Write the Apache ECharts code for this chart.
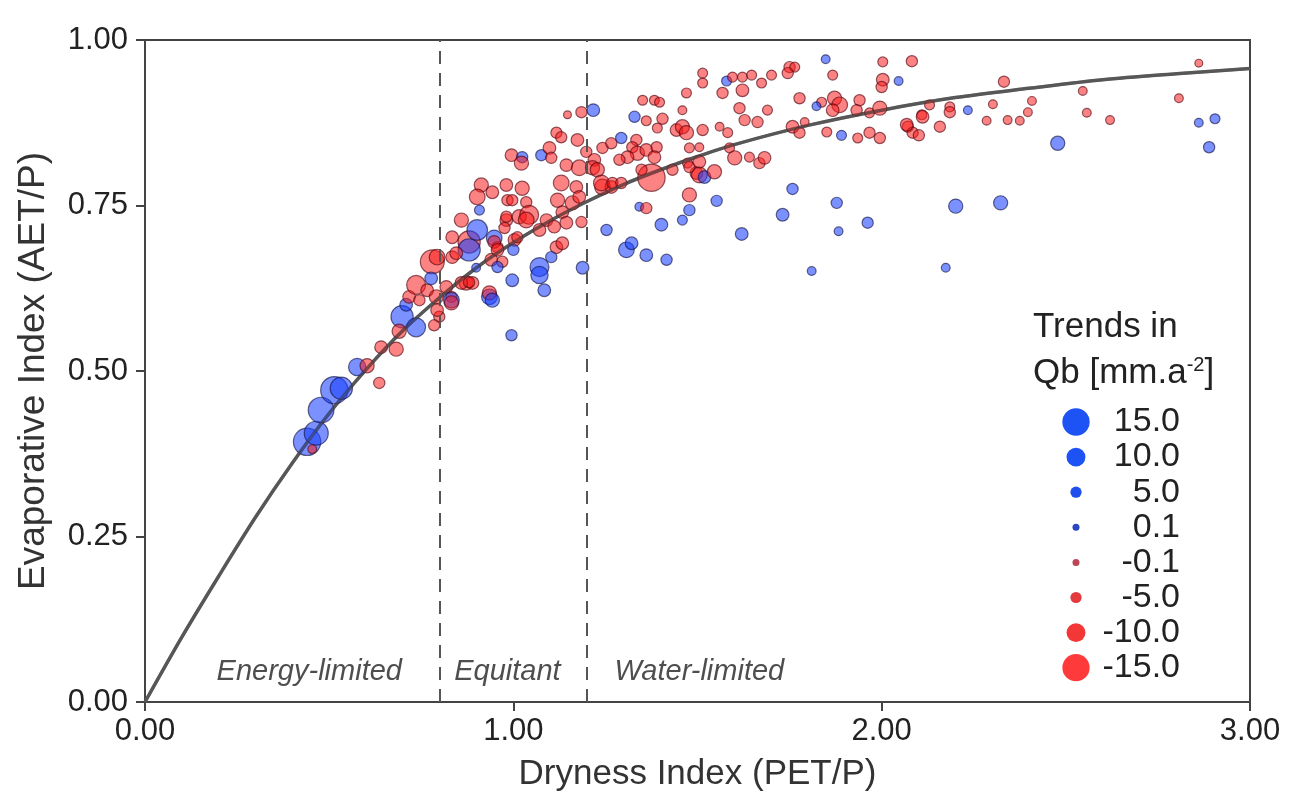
<!DOCTYPE html>
<html><head><meta charset="utf-8">
<script src="https://cdn.jsdelivr.net/npm/echarts@6/dist/echarts.min.js"></script>
<style>html,body{margin:0;padding:0;background:#fff}#c{width:1289px;height:801px}</style>
</head><body><div id="c"></div>
<script>
// Dryness index (PET/P) of each catchment
const dryness = [
0.440,0.465,0.454,0.478,0.514,0.533,0.576,0.603,0.636,0.641,0.682,0.698,0.736,0.690,0.709,0.717,0.745,0.736,0.766,0.791,
0.780,0.793,0.777,0.799,0.785,0.793,0.818,0.832,0.832,0.832,0.834,0.834,0.859,0.880,0.880,0.902,0.872,0.889,0.899,0.940,
0.970,0.948,0.957,0.935,0.935,0.995,0.981,0.913,0.943,0.902,0.908,0.981,1.024,0.984,1.035,0.995,1.024,1.022,1.076,1.098,
1.103,1.117,1.130,1.174,1.147,1.185,1.217,1.144,1.198,1.220,1.242,1.266,1.179,1.215,1.228,1.130,1.171,1.242,1.266,0.997,
1.120,1.133,1.160,1.179,0.981,1.016,1.043,1.035,1.090,1.111,1.144,1.185,0.845,0.948,0.957,0.976,1.003,1.011,1.071,1.117,
1.253,1.000,0.957,1.071,1.071,1.103,1.133,0.997,1.084,1.188,0.943,0.859,0.880,1.351,1.383,1.397,1.329,1.361,1.405,1.470,
1.459,1.391,1.443,1.459,1.470,1.293,1.334,1.323,1.337,1.361,1.389,1.383,1.310,1.288,1.375,1.348,1.342,1.361,1.432,1.473,
1.497,1.478,1.478,1.459,1.402,1.307,1.321,1.361,1.416,1.239,1.269,1.293,1.514,1.514,1.579,1.595,1.622,1.647,1.674,1.701,
1.750,1.764,1.745,1.848,1.867,2.003,2.082,2.003,2.000,2.046,1.568,1.622,1.614,1.690,1.777,1.837,1.823,1.872,1.886,1.867,
1.940,1.932,1.967,1.995,1.514,1.560,1.582,1.628,1.663,1.758,1.777,1.791,1.851,1.891,1.935,1.967,1.995,2.071,2.084,2.109,
2.158,1.478,1.505,1.478,1.505,1.505,1.519,1.546,1.587,1.601,1.641,1.668,1.682,1.552,1.620,1.731,1.758,1.810,1.878,1.883,
1.962,2.174,2.201,2.323,2.478,2.332,2.861,2.546,2.807,2.130,2.185,2.185,2.234,2.302,2.408,2.397,2.111,2.068,2.101,2.285,
2.342,2.375,2.557,2.620,2.861,2.905,2.889
];
// Evaporative index (AET/P) of each catchment
const evaporative = [
0.393,0.406,0.382,0.441,0.471,0.474,0.506,0.508,0.482,0.536,0.533,0.582,0.566,0.560,0.600,0.612,0.607,0.630,0.622,0.612,
0.665,0.672,0.640,0.582,0.569,0.592,0.627,0.612,0.607,0.603,0.672,0.702,0.728,0.695,0.683,0.713,0.633,0.633,0.656,0.668,
0.665,0.701,0.687,0.612,0.618,0.554,0.728,0.781,0.770,0.763,0.743,0.781,0.776,0.758,0.755,0.826,0.823,0.814,0.826,0.837,
0.822,0.860,0.853,0.849,0.887,0.891,0.894,0.811,0.831,0.819,0.837,0.844,0.807,0.807,0.804,0.784,0.778,0.778,0.778,0.758,
0.758,0.740,0.754,0.763,0.733,0.733,0.736,0.728,0.728,0.718,0.724,0.725,0.678,0.695,0.683,0.716,0.698,0.702,0.713,0.687,
0.713,0.683,0.657,0.657,0.645,0.672,0.693,0.637,0.622,0.656,0.607,0.633,0.634,0.909,0.909,0.906,0.884,0.878,0.881,0.920,
0.894,0.867,0.864,0.869,0.860,0.852,0.849,0.838,0.829,0.834,0.838,0.823,0.823,0.819,0.792,0.804,0.748,0.746,0.804,0.814,
0.799,0.766,0.743,0.728,0.721,0.683,0.693,0.675,0.668,0.784,0.784,0.784,0.950,0.935,0.938,0.944,0.944,0.947,0.935,0.947,
0.959,0.959,0.950,0.971,0.947,0.967,0.968,0.940,0.929,0.938,0.920,0.924,0.897,0.894,0.912,0.906,0.900,0.912,0.902,0.894,
0.909,0.894,0.890,0.897,0.864,0.869,0.860,0.879,0.876,0.869,0.860,0.876,0.861,0.856,0.852,0.860,0.852,0.869,0.860,0.887,
0.869,0.837,0.838,0.808,0.816,0.796,0.793,0.801,0.837,0.822,0.823,0.814,0.822,0.757,0.707,0.736,0.775,0.651,0.754,0.711,
0.724,0.656,0.749,0.754,0.844,0.937,0.965,0.923,0.912,0.902,0.899,0.891,0.894,0.903,0.908,0.891,0.884,0.872,0.856,0.878,
0.879,0.878,0.890,0.879,0.875,0.881,0.838
];
// Trend in baseflow Qb [mm/a^2] of each catchment
const trendQb = [
15,13,-3,14,15,12,9,-7,-5,-6,-7,12,10,-7,6,-6,-5,-10,-6,-7,
-13,-8,6,-5,-5,-6,-6,-5,8,-7,-6,-6,-7,-12,12,11,-7,-6,3,-6,
-5,8,-5,8,-7,5,-6,-7,-6,-8,4,-6,-7,-5,-5,-6,5,-7,5,-6,
-5,-5,-5,-6,-2,-5,6,-6,-5,-6,-5,-5,-8,-7,-7,-8,-6,-8,-6,-5,
-7,-6,-7,-6,-5,-7,-10,-8,-6,-6,-6,-5,-6,-6,-6,-5,-6,-5,-6,-6,
5,5,5,10,9,5,-6,6,6,6,7,-6,-5,-4,-4,-4,5,-4,-5,-4,
-3,-4,-6,-7,-7,5,-5,-5,-7,-6,-5,-6,-6,-5,-15,-5,3,-5,-5,-4,
-6,-7,5,4,6,8,6,6,5,-8,-5,-5,-4,-4,4,-4,-4,-4,-4,-4,
-5,-4,-5,3,-4,-4,-5,-6,-5,3,-5,-6,-5,-4,-5,-4,3,-7,-8,-6,
-5,-5,-4,-7,-5,-3,-4,-5,-5,-6,-5,-3,-4,4,-4,-5,-5,-5,-5,-4,
-5,-4,-3,-5,-6,-8,6,-7,-4,-7,-4,-5,-6,5,6,6,5,3,5,3,
5,3,7,7,7,-5,-2,-3,-3,-4,-4,-5,3,-3,-3,-3,-6,-6,-5,-3,
-3,-3,-3,-3,3,4,5
];
// Budyko-type curve
const curveDryness = [0,0.1,0.2,0.3,0.4,0.5,0.6,0.7,0.8,0.9,1.0,1.1,1.2,1.3,1.4,1.5,1.6,1.8,2.0,2.2,2.4,2.6,2.8,3.0];
const curveEvap    = [0,0.098,0.190,0.279,0.361,0.436,0.502,0.561,0.611,0.656,0.694,0.727,0.756,0.782,0.804,0.824,0.842,0.871,0.894,0.913,0.927,0.940,0.949,0.957];
// Limits between regimes
const regimeLimits = [0.8, 1.2];
const regimeNames = ['Energy-limited', 'Equitant', 'Water-limited'];
const regimeLabelX = [0.446, 0.984, 1.505];
const regimeLabelY = 0.045;
// Legend classes
const legendValues = [15.0, 10.0, 5.0, 0.1, -0.1, -5.0, -10.0, -15.0];
const xTicks = ['0.00','1.00','2.00','3.00'];

const FONT = "'Liberation Sans', Arial, sans-serif";
function sizeOf(t){ return Math.sqrt(49 + 3.1 * t * t); }

const points = dryness.map((x, i) => {
  const t = trendQb[i];
  return {
    value: [x, evaporative[i], t],
    symbolSize: sizeOf(t),
    itemStyle: t > 0
      ? { color: 'rgba(25,65,255,0.72)', borderColor: 'rgba(20,20,70,0.8)', borderWidth: 1.2 }
      : { color: 'rgba(250,25,25,0.68)', borderColor: 'rgba(80,5,15,0.8)', borderWidth: 1.2 }
  };
});

const chart = echarts.init(document.getElementById('c'), null, { renderer: 'canvas' });

const legendColors = ['#1d52f5','#1d52f5','#1f50ee','#2d46c4','#bb4656','#e23a3d','#f33636','#ff3a3a'];
const legendGraphic = [
  { type: 'text', left: 1033, top: 310, style: { text: 'Trends in', font: '35px ' + FONT, fill: '#222' } },
  { type: 'text', left: 1033, top: 355, style: { text: 'Qb [mm.a{sup|-2}]', rich: { sup: { fontSize: 20, verticalAlign: 'top', padding: [0,0,16,0], fontFamily: FONT } }, font: '35px ' + FONT, fill: '#222' } }
];
legendValues.forEach((v, i) => {
  const cy = 422 + i * 35.1;
  const r = sizeOf(v) / 2;
  legendGraphic.push({ type: 'circle', shape: { cx: 1076, cy: cy, r: r }, style: { fill: legendColors[i] } });
  legendGraphic.push({ type: 'text', x: 1180, y: cy, style: { text: v.toFixed(1), font: '34px ' + FONT, fill: '#222', align: 'right', verticalAlign: 'middle' } });
});

chart.setOption({
  animation: false,
  backgroundColor: '#fff',
  grid: { left: 145, right: 39, top: 40, bottom: 99, show: true, borderColor: '#444', borderWidth: 2, backgroundColor: 'transparent' },
  xAxis: {
    type: 'value', min: 0, max: 3, interval: 1,
    name: 'Dryness Index (PET/P)', nameLocation: 'middle', nameGap: 55,
    nameTextStyle: { fontSize: 35, fontFamily: FONT, color: '#333' },
    axisLine: { lineStyle: { color: '#444', width: 2 } },
    axisTick: { show: true, length: 9, lineStyle: { color: '#444', width: 2 } },
    axisLabel: { fontSize: 31, fontFamily: FONT, color: '#222', margin: 14, formatter: v => xTicks[Math.round(v)] },
    splitLine: { show: false }
  },
  yAxis: {
    type: 'value', min: 0, max: 1, interval: 0.25,
    name: 'Evaporative Index (AET/P)', nameLocation: 'middle', nameGap: 93, nameRotate: 90,
    nameTextStyle: { fontSize: 37, fontFamily: FONT, color: '#333' },
    axisLine: { show: true, lineStyle: { color: '#444', width: 2 } },
    axisTick: { show: true, length: 9, lineStyle: { color: '#444', width: 2 } },
    axisLabel: { fontSize: 31, fontFamily: FONT, color: '#222', margin: 17, formatter: v => v.toFixed(2) },
    splitLine: { show: false }
  },
  graphic: legendGraphic,
  series: [
    {
      type: 'line', data: curveDryness.map((x, i) => [x, curveEvap[i]]),
      smooth: 0.3, showSymbol: false, z: 1,
      lineStyle: { color: '#5f5f5f', width: 3.5 },
      markLine: {
        silent: true, symbol: 'none', animation: false,
        lineStyle: { color: '#555', type: [13, 9], width: 2 },
        label: { show: false },
        data: regimeLimits.map(v => ({ xAxis: v }))
      }
    },
    {
      type: 'scatter', data: points, z: 3
    },
    {
      type: 'line', data: curveDryness.map((x, i) => [x, curveEvap[i]]),
      smooth: 0.3, showSymbol: false, z: 4,
      lineStyle: { color: 'rgba(80,80,80,0.55)', width: 3 }
    },
    {
      type: 'scatter', symbolSize: 0, z: 5, silent: true,
      data: regimeNames.map((n, i) => ({ value: [regimeLabelX[i], regimeLabelY], name: n })),
      label: { show: true, position: 'inside', formatter: p => p.name, fontSize: 29, fontStyle: 'italic', fontFamily: FONT, color: '#222' }
    }
  ]
});
</script></body></html>
